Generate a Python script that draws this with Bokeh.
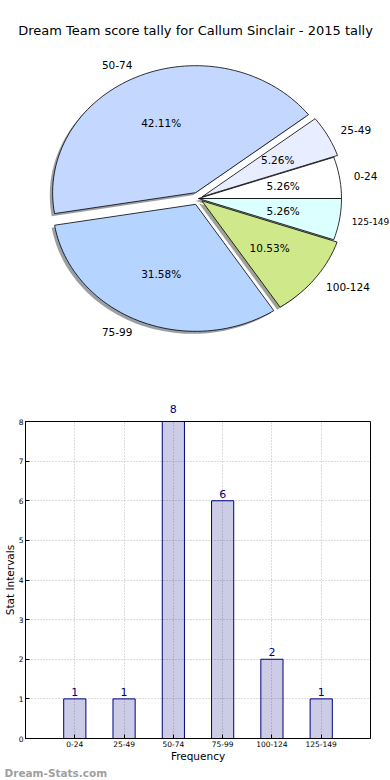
import math
from bokeh.plotting import figure
from bokeh.layouts import column
from bokeh.models import (Range1d, Label, LabelSet, FixedTicker, ColumnDataSource,
                          LinearAxis, Title)
from bokeh.core.properties import value
from bokeh.embed import file_html
from bokeh.resources import INLINE

# ---------------- data ----------------
title = "Dream Team score tally for Callum Sinclair - 2015 tally"
categories = ["0-24", "25-49", "50-74", "75-99", "100-124", "125-149"]
counts = [1, 1, 8, 6, 2, 1]
pie_colors = ["#ffffff", "#e8eeff", "#c4d8ff", "#b5d4ff", "#cfe98a", "#dcffff"]
explode = [0.0, 0.03, 0.05, 0.05, 0.03, 0.0]
y_ticks = [0, 1, 2, 3, 4, 5, 6, 7, 8]
x_label = "Frequency"
y_label = "Stat Intervals"
watermark = "Dream-Stats.com"

FONT = "DejaVu Sans"
W = 390
PIE_H = 350
BAR_H = 428

# ---------------- pie ----------------
RX, RY = 143.0, 127.0
CX, CY = 198.0, 198.0
p1 = figure(width=W, height=PIE_H, output_backend="svg", toolbar_location=None,
            x_range=Range1d(-CX / RX, (W - CX) / RX),
            y_range=Range1d(-(PIE_H - CY) / RY, CY / RY),
            x_axis_location=None, y_axis_location=None, min_border=0)
p1.grid.visible = False
p1.outline_line_color = None
p1.frame_align = False

total = float(sum(counts))
wx, wy, sx, sy, fills, shadows = [], [], [], [], [], []
pct_x, pct_y, pct_t = [], [], []
lab_x, lab_y, lab_t, lab_align, lab_size = [], [], [], [], []
t1 = 0.0
for cat, c, col, e in zip(categories, counts, pie_colors, explode):
    frac = c / total
    t2 = t1 + 360.0 * frac
    tm = math.radians((t1 + t2) / 2.0)
    cx = e * math.cos(tm)
    cy = e * math.sin(tm)
    n = max(8, int((t2 - t1) / 2))
    xs = [cx] + [cx + math.cos(math.radians(t1 + (t2 - t1) * k / n)) for k in range(n + 1)] + [cx]
    ys = [cy] + [cy + math.sin(math.radians(t1 + (t2 - t1) * k / n)) for k in range(n + 1)] + [cy]
    wx.append(xs); wy.append(ys)
    sx.append([v - 0.02 for v in xs]); sy.append([v - 0.02 for v in ys])
    fills.append(col)
    r = int(col[1:3], 16); g = int(col[3:5], 16); b = int(col[5:7], 16)
    shadows.append("#%02x%02x%02x" % (int(r * 0.3), int(g * 0.3), int(b * 0.3)))
    pct_x.append(cx + 0.6 * math.cos(tm)); pct_y.append(cy + 0.6 * math.sin(tm))
    pct_t.append("%.2f%%" % (100.0 * frac))
    lx = cx + 1.1 * math.cos(tm)
    align = "left" if lx > 0 else "right"
    size = 10.5
    if align == "left":
        # keep the label inside the canvas (estimated text width)
        right_px = CX + lx * RX + len(cat) * 0.6 * size
        if right_px > W - 1:
            size = 9.0
            est = len(cat) * 0.6 * size
            lx = min(lx, (W - 1 - CX - est) / RX)
    lab_x.append(lx); lab_y.append(cy + 1.1 * math.sin(tm)); lab_t.append(cat)
    lab_align.append(align); lab_size.append("%.1fpx" % size)
    t1 = t2

p1.patches(xs=sx, ys=sy, fill_color=shadows, fill_alpha=0.5, line_color=None)
p1.patches(xs=wx, ys=wy, fill_color=fills, line_color="black", line_width=0.8)
p1.text(x=pct_x, y=pct_y, text=pct_t, text_font=value(FONT), text_font_size="10.5px",
        text_align="center", text_baseline="middle", text_color="black")
p1.text(x=lab_x, y=lab_y, text=lab_t, text_font=value(FONT), text_font_size=lab_size,
        text_align=lab_align, text_baseline="middle", text_color="black")
p1.add_layout(Label(x=195, y=PIE_H - 30, x_units="screen", y_units="screen", text=title,
                    text_font=FONT, text_font_size="13px", text_align="center",
                    text_baseline="middle", text_color="black"))

# ---------------- bars ----------------
ymax = max(y_ticks)
xs_idx = list(range(len(categories)))
p2 = figure(width=W, height=BAR_H, output_backend="svg", toolbar_location=None,
            x_range=Range1d(-1, len(categories)), y_range=Range1d(0, ymax),
            min_border_top=71, min_border_right=20, min_border_bottom=38, min_border_left=0)
p2.frame_align = False
bottom_axis = p2.below[0]
left_axis = p2.left[0]

src = ColumnDataSource(dict(x=xs_idx, top=counts))
p2.vbar(x="x", top="top", width=0.45, source=src, fill_color="navy", fill_alpha=0.2,
        line_color="navy", line_width=1)

inside = [(i, c) for i, c in zip(xs_idx, counts) if c < ymax]
lab_src = ColumnDataSource(dict(x=[i for i, c in inside], y=[c for i, c in inside],
                                t=[str(c) for i, c in inside]))
p2.add_layout(LabelSet(x="x", y="y", text="t", source=lab_src, y_offset=3,
                       text_align="center", text_baseline="bottom", text_font=value(FONT),
                       text_font_size="11px", text_color="navy"))
# values of bars reaching the top of the axes are shown just above the frame
top_bars = [(i, c) for i, c in zip(xs_idx, counts) if c >= ymax]
top_axis = LinearAxis(ticker=FixedTicker(ticks=[i for i, c in top_bars]),
                      major_label_overrides={i: str(c) for i, c in top_bars},
                      axis_line_color=None, major_tick_line_color=None,
                      minor_tick_line_color=None, major_label_standoff=3,
                      major_label_text_color="navy", major_label_text_font=FONT,
                      major_label_text_font_size="11px")
p2.add_layout(top_axis, "above")

p2.outline_line_color = "black"
p2.outline_line_width = 1
bottom_axis.ticker = FixedTicker(ticks=xs_idx)
bottom_axis.major_label_overrides = {i: c for i, c in zip(xs_idx, categories)}
left_axis.ticker = FixedTicker(ticks=y_ticks)
p2.xgrid.ticker = FixedTicker(ticks=xs_idx)
p2.ygrid.ticker = FixedTicker(ticks=y_ticks)
for g in (p2.xgrid, p2.ygrid):
    g.grid_line_color = "#b8b8b8"
    g.grid_line_dash = "1 2"
    g.grid_line_width = 1
for ax in (bottom_axis, left_axis):
    ax.major_tick_in = 4
    ax.major_tick_out = 0
    ax.minor_tick_line_color = None
    ax.major_label_text_font = FONT
    ax.major_label_text_font_size = "7.5px"
    ax.major_label_text_color = "black"
    ax.axis_label_text_font = FONT
    ax.axis_label_text_font_size = "10.5px"
    ax.axis_label_text_font_style = "normal"
    ax.axis_label_text_color = "black"
    ax.axis_line_color = "black"
    ax.major_label_standoff = 2
    ax.axis_label_standoff = 0
bottom_axis.axis_label = x_label
left_axis.axis_label = y_label
p2.add_layout(Title(text=watermark, align="left", offset=-21, standoff=0,
                    text_font=FONT, text_font_size="10.5px", text_font_style="bold",
                    text_color="#a0a0a0"), "below")

layout = column(p1, p2, spacing=0)
open("out.html", "w").write(file_html(layout, INLINE))
